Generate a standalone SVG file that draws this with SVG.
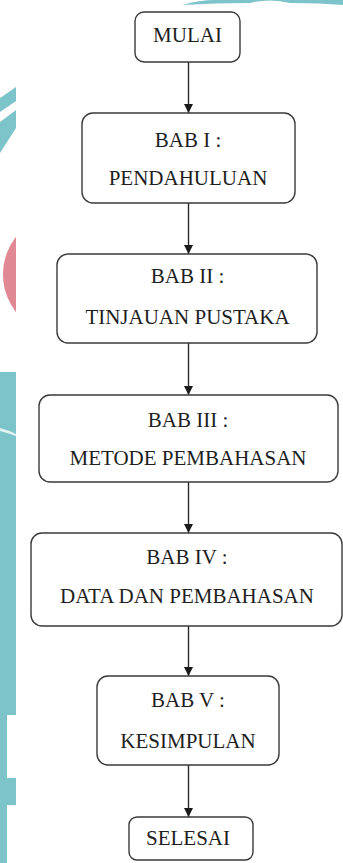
<svg xmlns="http://www.w3.org/2000/svg" width="343" height="863" viewBox="0 0 343 863">
<style>
.box{fill:#fff;stroke:#3a3a3a;stroke-width:1.4}
.t{font-family:'Liberation Serif','Times New Roman','DejaVu Serif',serif;font-size:21px;fill:#1e1e1e;text-anchor:middle}
.c{stroke:#2a2a2a;stroke-width:1.4;fill:none;marker-end:url(#ah)}
.teal{fill:#7cc3ca}
</style>
<defs>
<marker id="ah" viewBox="0 0 10 10" refX="10" refY="5" markerWidth="9" markerHeight="9" markerUnits="userSpaceOnUse" orient="auto">
<path d="M0,0 L10,5 L0,10 Z" fill="#1a1a1a"/>
</marker>
<clipPath id="strip"><rect x="0" y="0" width="16" height="863"/></clipPath>
</defs>
<rect width="343" height="863" fill="#fff"/>
<g id="watermark">
<path class="teal" d="M182,5 Q200,0 215,0 L343,0 L343,5 Q320,3 290,3 Q270,-2 250,3 Q215,3 182,5 Z"/>
<polygon class="teal" points="0,98 16,87 16,101 0,112"/>
<polygon class="teal" points="0,122 16,110 16,128 0,153"/>
<circle cx="64" cy="274.5" r="61" fill="#e08893" clip-path="url(#strip)"/>
<rect class="teal" x="0" y="372" width="16" height="491"/>
<path d="M0,428 Q8,430 16,434 L16,436 Q8,433 0,431 Z" fill="#fff" opacity="0.8"/>
<rect x="7" y="715" width="9" height="63" fill="#fff"/>
<rect x="7" y="805" width="9" height="58" fill="#fff"/>
</g>
<g id="connectors">
<line class="c" x1="188.5" y1="62" x2="188.5" y2="113"/>
<line class="c" x1="188.5" y1="203" x2="188.5" y2="254"/>
<line class="c" x1="188.5" y1="343" x2="188.5" y2="395"/>
<line class="c" x1="188.5" y1="482" x2="188.5" y2="533"/>
<line class="c" x1="188.5" y1="626" x2="188.5" y2="676"/>
<line class="c" x1="188.5" y1="765" x2="188.5" y2="817"/>
</g>
<g id="mulai">
<rect class="box" x="135" y="12" width="105" height="50" rx="9"/>
<text class="t" x="187.5" y="42">MULAI</text>
</g>
<g id="bab1">
<rect class="box" x="82" y="113" width="213" height="90" rx="11"/>
<text class="t" x="188" y="147">BAB I :</text>
<text class="t" x="188" y="185">PENDAHULUAN</text>
</g>
<g id="bab2">
<rect class="box" x="57" y="254" width="260" height="89" rx="11"/>
<text class="t" x="187.5" y="283">BAB II :</text>
<text class="t" x="187.5" y="324">TINJAUAN PUSTAKA</text>
</g>
<g id="bab3">
<rect class="box" x="39" y="395" width="299" height="87" rx="11"/>
<text class="t" x="188" y="427">BAB III :</text>
<text class="t" x="188" y="465">METODE PEMBAHASAN</text>
</g>
<g id="bab4">
<rect class="box" x="31" y="533" width="311" height="93" rx="11"/>
<text class="t" x="187" y="564">BAB IV :</text>
<text class="t" x="187" y="603">DATA DAN PEMBAHASAN</text>
</g>
<g id="bab5">
<rect class="box" x="97" y="676" width="182" height="89" rx="11"/>
<text class="t" x="188" y="707">BAB V :</text>
<text class="t" x="188" y="748">KESIMPULAN</text>
</g>
<g id="selesai">
<rect class="box" x="129" y="817" width="124" height="43" rx="8"/>
<text class="t" x="188" y="845">SELESAI</text>
</g>
</svg>
